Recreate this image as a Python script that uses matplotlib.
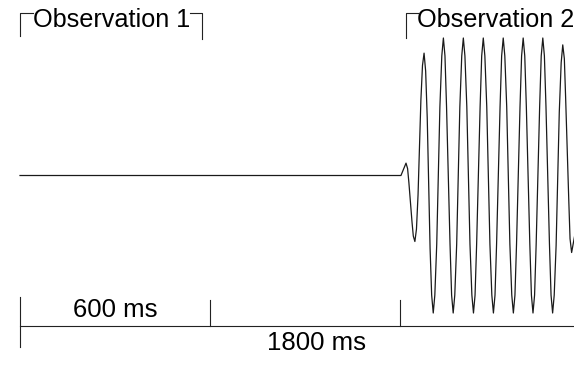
import matplotlib
matplotlib.use("Agg")
import matplotlib.pyplot as plt

# ---- data (time in ms, normalized amplitude) ----
signal_t = [0, 1203, 1219,
            1224, 1228, 1233, 1238, 1242, 1247,
            1252, 1257, 1261.5, 1266, 1271, 1276,
            1281, 1286, 1290.5, 1295, 1300, 1305,
            1310, 1316, 1321, 1326, 1332, 1337,
            1342, 1347, 1352.5, 1358, 1363, 1368,
            1373, 1379, 1384, 1389, 1395, 1400,
            1405, 1411, 1416, 1421, 1427, 1432,
            1437, 1442, 1447.5, 1453, 1458, 1463,
            1468, 1474, 1479, 1484, 1490, 1495,
            1500, 1505, 1510.5, 1516, 1521, 1526,
            1531, 1537, 1542, 1547, 1553, 1558,
            1563, 1568, 1573.5, 1579, 1584, 1589,
            1594, 1599, 1604.5, 1610, 1615, 1620,
            1625, 1630, 1635.5, 1641, 1646, 1651,
            1656, 1661, 1666.5, 1672, 1677, 1682,
            1687, 1693, 1698, 1703, 1709, 1714,
            1719, 1723, 1728, 1733, 1737, 1742,
            1753]
signal_v = [0, 0, 0.09,
            0.05, -0.05, -0.195, -0.34, -0.44, -0.48,
            -0.39, -0.14, 0.205, 0.55, 0.80, 0.89,
            0.76, 0.42, -0.055, -0.53, -0.87, -1.0,
            -0.87, -0.5, 0.0, 0.5, 0.87, 1.0,
            0.87, 0.5, 0.0, -0.5, -0.87, -1.0,
            -0.87, -0.5, 0.0, 0.5, 0.87, 1.0,
            0.87, 0.5, 0.0, -0.5, -0.87, -1.0,
            -0.87, -0.5, 0.0, 0.5, 0.87, 1.0,
            0.87, 0.5, 0.0, -0.5, -0.87, -1.0,
            -0.87, -0.5, 0.0, 0.5, 0.87, 1.0,
            0.87, 0.5, 0.0, -0.5, -0.87, -1.0,
            -0.87, -0.5, 0.0, 0.5, 0.87, 1.0,
            0.87, 0.5, 0.0, -0.5, -0.87, -1.0,
            -0.87, -0.5, 0.0, 0.5, 0.87, 1.0,
            0.87, 0.5, 0.0, -0.5, -0.87, -1.0,
            -0.87, -0.51, -0.025, 0.46, 0.82, 0.95,
            0.85, 0.57, 0.195, -0.18, -0.46, -0.56,
            -0.42]

timeline_ticks = [0, 600, 1200]
duration_labels = ["600 ms", "1800 ms"]
observation_labels = ["Observation 1", "Observation 2"]
obs1_span = [0, 575]
obs2_start = 1219

plt.rcParams['font.family'] = ['Liberation Sans', 'DejaVu Sans']
FS_OBS = 18.2
FS_MS = 18.5

fig = plt.figure(figsize=(5.74, 3.67), dpi=100)
ax = fig.add_axes([0, 0, 1, 1])
ax.set_xlim(-63.2, 1749.5)
ax.set_ylim(-1.3927, 1.2764)
ax.axis('off')

# waveform
ax.plot(signal_t, signal_v, color='#1a1a1a', lw=0.9, solid_joinstyle='round')

lc = '#222222'
lw = 0.8
# timeline
y_line = -1.0945
ax.plot([timeline_ticks[0], 1760], [y_line, y_line], color=lc, lw=lw)
ax.plot([timeline_ticks[0]] * 2, [-0.8836, -1.247], color=lc, lw=lw)
for t in timeline_ticks[1:]:
    ax.plot([t, t], [-0.9055, y_line], color=lc, lw=lw)

ax.text(300, -1.027, duration_labels[0], fontsize=FS_MS, ha='center', va='baseline', color='black')
ax.text(935, -1.269, duration_labels[1], fontsize=FS_MS, ha='center', va='baseline', color='black')

# observation brackets
y_top = 1.18
ax.plot([obs1_span[0], obs1_span[0], 41], [1.0145, y_top, y_top], color=lc, lw=lw)
ax.plot([536, obs1_span[1], obs1_span[1]], [y_top, y_top, 0.9927], color=lc, lw=lw)
ax.text(41, 1.082, observation_labels[0], fontsize=FS_OBS, ha='left', va='baseline', color='black')

ax.plot([obs2_start, obs2_start, 1256], [1.0, y_top, y_top], color=lc, lw=lw)
ax.text(1254, 1.082, observation_labels[1], fontsize=FS_OBS, ha='left', va='baseline', color='black')

fig.savefig('out.png', dpi=100)
